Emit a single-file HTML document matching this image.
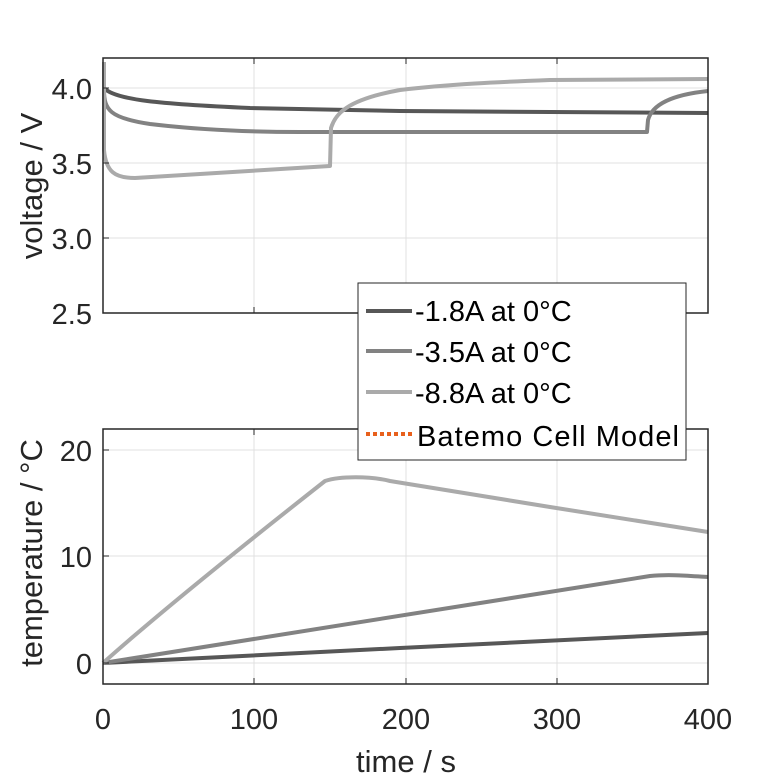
<!DOCTYPE html>
<html><head><meta charset="utf-8"><style>
html,body{margin:0;padding:0;background:#fff}
svg{display:block}
text{font-family:"Liberation Sans",sans-serif;fill:#262626}
</style></head><body>
<svg width="781" height="781" viewBox="0 0 781 781">
<rect width="781" height="781" fill="#fff"/>
<g stroke="#e0e0e0" stroke-width="1">
<line x1="254" y1="58" x2="254" y2="313"/><line x1="406" y1="58" x2="406" y2="313"/><line x1="557" y1="58" x2="557" y2="313"/>
<line x1="103" y1="88" x2="708" y2="88"/><line x1="103" y1="163" x2="708" y2="163"/><line x1="103" y1="238" x2="708" y2="238"/>
<line x1="254" y1="429" x2="254" y2="684"/><line x1="406" y1="429" x2="406" y2="684"/><line x1="557" y1="429" x2="557" y2="684"/>
<line x1="103" y1="450" x2="708" y2="450"/><line x1="103" y1="556" x2="708" y2="556"/><line x1="103" y1="663" x2="708" y2="663"/>
</g>
<g fill="none" stroke-width="4" stroke-linejoin="round">
<path stroke="#575757" d="M104,88 C115,100 160,104 250,108 L400,111 L708,113"/>
<path stroke="#828282" d="M104,90 C104,110 110,118 150,124 C200,130 250,132 300,132 L647,132 L648,120 C652,105 670,95 708,91"/>
<path stroke="#aaaaaa" d="M104,62 L104,150 C106,172 115,178 135,178 L330,166 L331,128 C335,115 345,100 400,90 C450,84 500,82 550,80 L708,79"/>
<path stroke="#575757" d="M103,663 L400,648 L708,633"/>
<path stroke="#828282" d="M103,663 L650,576 C670,574 690,576 708,577"/>
<path stroke="#aaaaaa" d="M103,663 C160,612 250,540 325,481 C340,476 370,476 390,481 L550,507 L708,532"/>
</g>
<g fill="none" stroke="#262626" stroke-width="1.5">
<rect x="103" y="58" width="605" height="255"/>
<rect x="103" y="429" width="605" height="255"/>
</g>
<g stroke="#262626" stroke-width="1">
<line x1="254" y1="58" x2="254" y2="64"/><line x1="406" y1="58" x2="406" y2="64"/><line x1="557" y1="58" x2="557" y2="64"/>
<line x1="254" y1="313" x2="254" y2="307"/><line x1="406" y1="313" x2="406" y2="307"/><line x1="557" y1="313" x2="557" y2="307"/>
<line x1="103" y1="88" x2="109" y2="88"/><line x1="103" y1="163" x2="109" y2="163"/><line x1="103" y1="238" x2="109" y2="238"/>
<line x1="254" y1="684" x2="254" y2="678"/><line x1="406" y1="684" x2="406" y2="678"/><line x1="557" y1="684" x2="557" y2="678"/>
<line x1="254" y1="429" x2="254" y2="435"/><line x1="406" y1="429" x2="406" y2="435"/><line x1="557" y1="429" x2="557" y2="435"/>
<line x1="103" y1="450" x2="109" y2="450"/><line x1="103" y1="556" x2="109" y2="556"/><line x1="103" y1="663" x2="109" y2="663"/>
</g>
<g font-size="29" text-anchor="end">
<text x="92" y="99">4.0</text><text x="92" y="174">3.5</text><text x="92" y="249">3.0</text><text x="92" y="324">2.5</text>
<text x="92" y="461">20</text><text x="92" y="567">10</text><text x="92" y="674">0</text>
</g>
<g font-size="29" text-anchor="middle">
<text x="103" y="729">0</text><text x="254" y="729">100</text><text x="406" y="729">200</text><text x="557" y="729">300</text><text x="708" y="729">400</text>
</g>
<g font-size="31" text-anchor="middle">
<text x="406" y="772">time / s</text>
<text transform="translate(42,186) rotate(-90)">voltage / V</text>
<text transform="translate(42,553) rotate(-90)">temperature / °C</text>
</g>
<rect x="358" y="283" width="328" height="177" fill="#fff" stroke="#262626" stroke-width="1"/>
<g stroke-width="4">
<line x1="366" y1="311" x2="412" y2="311" stroke="#575757"/>
<line x1="366" y1="351" x2="412" y2="351" stroke="#828282"/>
<line x1="366" y1="392" x2="412" y2="392" stroke="#aaaaaa"/>
<line x1="366" y1="434" x2="412" y2="434" stroke="#e8601c" stroke-dasharray="4,3"/>
</g>
<g font-size="29">
<text x="415" y="321" style="fill:#000">-1.8A at 0°C</text>
<text x="415" y="362" style="fill:#000">-3.5A at 0°C</text>
<text x="415" y="403" style="fill:#000">-8.8A at 0°C</text>
<text x="417" y="446" style="fill:#000" textLength="262">Batemo Cell Model</text>
</g>
</svg>
</body></html>
